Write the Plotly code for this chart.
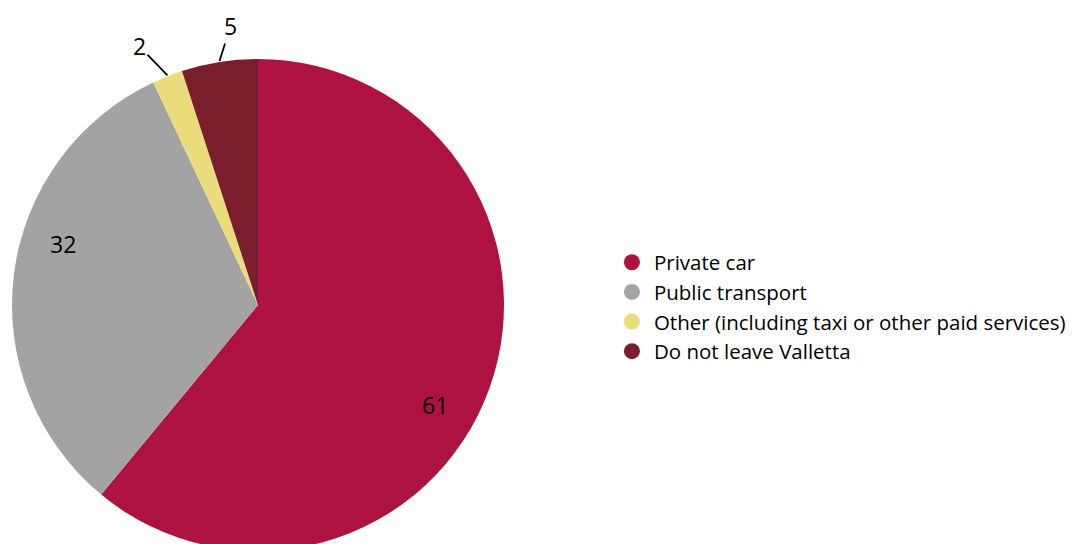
import math
import plotly.graph_objects as go

# Mode of transport used to leave Valletta (%)
categories = ["Private car", "Public transport",
              "Other (including taxi or other paid services)", "Do not leave Valletta"]
shares = [61, 32, 2, 5]
colors = ["#AE1241", "#A3A3A3", "#EBDC7B", "#7A1E2E"]

W, H = 1074, 552
FONT = "'Open Sans', Lato, sans-serif"

# Pie geometry in pixels
cx, cy, R = 258, 304, 246
dom_x = [(cx - R) / W, (cx + R) / W]
dom_y = [0, 1 - (cy - R) / H]

fig = go.Figure()
fig.add_trace(go.Pie(
    labels=categories,
    values=shares,
    sort=False,
    direction="clockwise",
    rotation=0,
    marker=dict(colors=colors, line=dict(width=0)),
    textinfo="none",
    domain=dict(x=dom_x, y=dom_y),
    showlegend=False,
    hoverinfo="label+value",
))

# Value labels: large slices inside near the rim, small ones outside with a leader line
total = sum(shares)
cum = 0
label_offsets = {2: (-28, -29), 5: (11, -35)}
for v in shares:
    mid = (cum + v / 2) / total * 2 * math.pi
    cum += v
    if v >= 10:
        ang = mid + math.radians(10)
        r = 0.83 * R
        px = cx + r * math.sin(ang)
        py = cy - r * math.cos(ang)
        fig.add_annotation(
            x=px / W, y=1 - py / H, xref="paper", yref="paper",
            xanchor="center", yanchor="middle",
            text=str(v), showarrow=False,
            font=dict(family=FONT, size=23, color="black"),
        )
        continue
    px = cx + R * math.sin(mid)
    py = cy - R * math.cos(mid)
    ax, ay = label_offsets[v]
    fig.add_annotation(
        x=px / W, y=1 - py / H, xref="paper", yref="paper",
        text=str(v), showarrow=True, arrowhead=0, arrowwidth=1.8,
        arrowcolor="black", ax=ax, ay=ay, standoff=0,
        font=dict(family=FONT, size=23, color="black"),
    )

# Legend entries with round markers
for name, col in zip(categories, colors):
    fig.add_trace(go.Scatter(
        x=[None], y=[None], mode="markers", name=name,
        marker=dict(symbol="circle", size=19, color=col),
    ))

fig.update_layout(
    width=W, height=H,
    margin=dict(l=0, r=0, t=0, b=0, autoexpand=False),
    paper_bgcolor="white", plot_bgcolor="white",
    xaxis=dict(visible=False), yaxis=dict(visible=False),
    font=dict(family=FONT, size=20.5, color="black"),
    legend=dict(
        x=0.5679, y=0.444, xanchor="left", yanchor="middle",
        font=dict(family=FONT, size=20.5, color="black"),
        itemwidth=34, tracegroupgap=0, bgcolor="rgba(0,0,0,0)",
    ),
)

fig.write_html("out.html", post_script="document.body.style.overflow='hidden';document.body.style.margin='0';")
